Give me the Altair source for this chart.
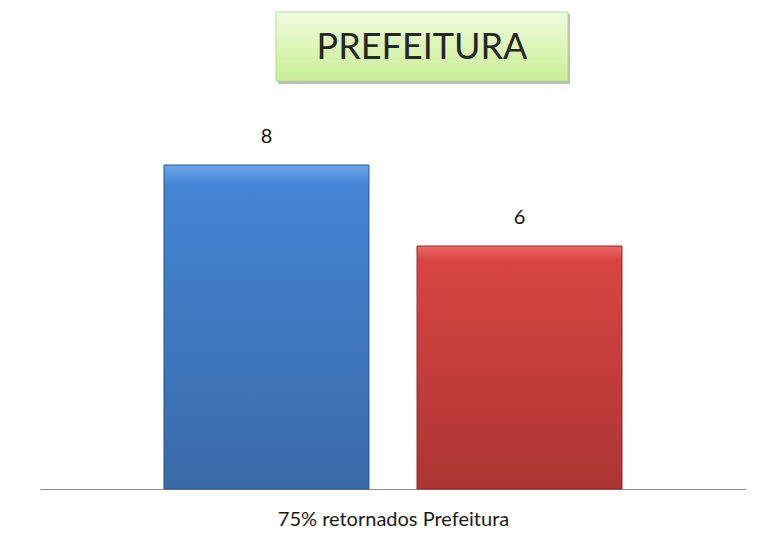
import altair as alt
import pandas as pd

categories = ["Retornados", "Não retornados"]
values = [8, 6]
labels = ["8", "6"]
title_text = "PREFEITURA"
x_title = "75% retornados Prefeitura"

df = pd.DataFrame({"cat": categories, "val": values, "lab": labels})

FONT = "Lato"

def grad(top, mid, bottom):
    return alt.Gradient(
        gradient="linear",
        stops=[alt.GradientStop(color=top, offset=0),
               alt.GradientStop(color=mid, offset=0.06),
               alt.GradientStop(color=bottom, offset=1)],
        x1=0, x2=0, y1=0, y2=1)

blue_grad = grad("#6aa6ea", "#4584d4", "#3a6aa9")
red_grad = grad("#ec6a66", "#d74542", "#ac3533")

x_enc = alt.X("cat:N", sort=categories,
              scale=alt.Scale(paddingInner=0.19, paddingOuter=0.49),
              axis=alt.Axis(labels=False, ticks=False, domainColor="#8c8c8c",
                            domainWidth=1, title=x_title, titleFont=FONT,
                            titleFontSize=20, titleFontWeight="normal",
                            titleColor="#1a1a1a", titlePadding=20))
y_enc = alt.Y("val:Q", scale=alt.Scale(domain=[0, 10], nice=False),
              axis=None)

base = alt.Chart(df)

bar_blue = base.transform_filter(alt.datum.cat == categories[0]).mark_bar(
    color=blue_grad, stroke="#2c5486", strokeWidth=1).encode(x=x_enc, y=y_enc)
bar_red = base.transform_filter(alt.datum.cat == categories[1]).mark_bar(
    color=red_grad, stroke="#8a2826", strokeWidth=1).encode(x=x_enc, y=y_enc)

text = base.mark_text(dy=-28, fontSize=20, font=FONT, color="#111").encode(
    x=x_enc, y=y_enc, text="lab:N")

title_df = pd.DataFrame({"t": [title_text]})
title_grad = alt.Gradient(
    gradient="linear",
    stops=[alt.GradientStop(color="#f0fbe0", offset=0),
           alt.GradientStop(color="#dcf5b6", offset=0.5),
           alt.GradientStop(color="#c9ee98", offset=1)],
    x1=0, x2=0, y1=0, y2=1)
title_shadow = alt.Chart(title_df).mark_rect(color="#bdbdbd").encode(
    x=alt.value(238), x2=alt.value(530), y=alt.value(-70), y2=alt.value(0))
title_box = alt.Chart(title_df).mark_rect(color=title_grad, stroke="#b5d98f",
                                          strokeWidth=1).encode(
    x=alt.value(236), x2=alt.value(528), y=alt.value(-72), y2=alt.value(-3))
title_txt = alt.Chart(title_df).mark_text(fontSize=36, font=FONT,
                                          color="#262626").encode(
    x=alt.value(382), y=alt.value(-36), text="t:N")

chart = alt.layer(bar_blue, bar_red, text, title_shadow, title_box, title_txt).properties(
    width=706, height=405,
    background="white",
    autosize=alt.AutoSizeParams(type="none"),
    padding={"left": 32, "top": 76, "right": 0, "bottom": 46},
).configure_view(stroke="transparent", strokeWidth=0)

chart.save("out.html", embed_options={"renderer": "svg", "actions": False})
